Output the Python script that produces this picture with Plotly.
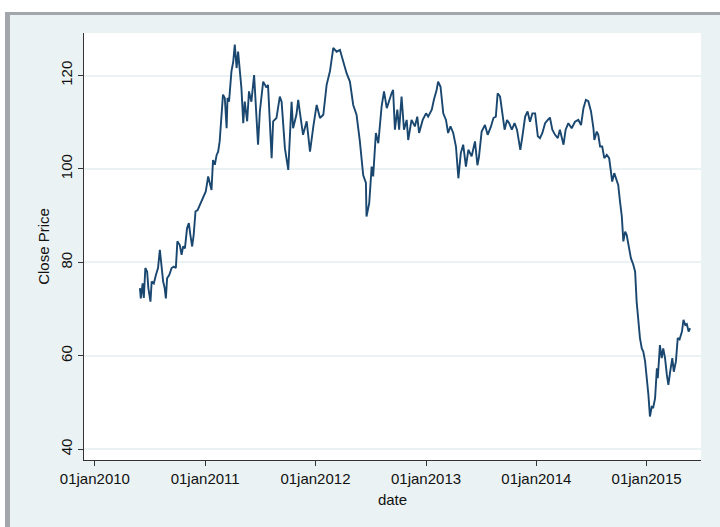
import plotly.graph_objects as go

dates = [
    "2010-05-30","2010-06-02","2010-06-08","2010-06-12","2010-06-17","2010-06-23","2010-06-27","2010-07-04",
    "2010-07-08","2010-07-15","2010-07-22","2010-07-29","2010-08-04","2010-08-09","2010-08-15","2010-08-20",
    "2010-08-24","2010-08-28","2010-09-04","2010-09-12","2010-09-19","2010-09-26","2010-10-01","2010-10-09",
    "2010-10-15","2010-10-20","2010-10-26","2010-11-02","2010-11-08","2010-11-13","2010-11-19","2010-11-24",
    "2010-11-30","2010-12-07","2010-12-14","2010-12-22","2010-12-28","2011-01-03","2011-01-11","2011-01-16",
    "2011-01-22","2011-01-27","2011-02-02","2011-02-08","2011-02-13","2011-02-18","2011-02-24","2011-03-01",
    "2011-03-07","2011-03-13","2011-03-16","2011-03-21","2011-03-29","2011-04-04","2011-04-09","2011-04-15",
    "2011-04-20","2011-04-26","2011-05-01","2011-05-07","2011-05-12","2011-05-20","2011-05-26","2011-06-03",
    "2011-06-12","2011-06-25","2011-07-01","2011-07-12","2011-07-23","2011-07-28","2011-08-09","2011-08-14",
    "2011-08-25","2011-09-05","2011-09-11","2011-09-22","2011-10-03","2011-10-14","2011-10-19","2011-10-30",
    "2011-11-05","2011-11-10","2011-11-21","2011-12-03","2011-12-14","2011-12-25","2012-01-05","2012-01-16",
    "2012-01-27","2012-02-07","2012-02-18","2012-02-29","2012-03-11","2012-03-22","2012-04-02","2012-04-13",
    "2012-04-24","2012-05-05","2012-05-16","2012-05-27","2012-06-07","2012-06-16","2012-06-18","2012-06-27",
    "2012-07-05","2012-07-10","2012-07-19","2012-07-27","2012-08-07","2012-08-15","2012-08-24","2012-09-01",
    "2012-09-09","2012-09-14","2012-09-20","2012-09-28","2012-10-04","2012-10-12","2012-10-20","2012-10-29",
    "2012-11-03","2012-11-14","2012-11-25","2012-12-03","2012-12-09","2012-12-21","2013-01-01","2013-01-08",
    "2013-01-20","2013-01-27","2013-02-05","2013-02-10","2013-02-18","2013-02-27","2013-03-08","2013-03-15",
    "2013-03-23","2013-04-01","2013-04-10","2013-04-18","2013-04-26","2013-05-04","2013-05-13","2013-05-21",
    "2013-06-01","2013-06-12","2013-06-20","2013-06-25","2013-07-04","2013-07-15","2013-07-24","2013-08-04",
    "2013-08-12","2013-08-20","2013-08-26","2013-09-03","2013-09-11","2013-09-18","2013-09-26","2013-10-03",
    "2013-10-12","2013-10-21","2013-10-29","2013-11-09","2013-11-16","2013-11-25","2013-12-03","2013-12-11",
    "2013-12-19","2013-12-28","2014-01-06","2014-01-13","2014-01-21","2014-01-30","2014-02-08","2014-02-15",
    "2014-02-23","2014-03-04","2014-03-13","2014-03-20","2014-04-01","2014-04-08","2014-04-17","2014-04-28",
    "2014-05-09","2014-05-20","2014-05-29","2014-06-06","2014-06-14","2014-06-22","2014-07-01","2014-07-09",
    "2014-07-12","2014-07-20","2014-07-25","2014-07-31","2014-08-07","2014-08-14","2014-08-22","2014-08-30",
    "2014-09-05","2014-09-09","2014-09-16","2014-09-24","2014-09-29","2014-10-05","2014-10-11","2014-10-16",
    "2014-10-22","2014-10-27","2014-11-04","2014-11-10","2014-11-18","2014-11-24","2014-11-29","2014-12-05",
    "2014-12-10","2014-12-16","2014-12-21","2014-12-27","2015-01-01","2015-01-07","2015-01-12","2015-01-18",
    "2015-01-23","2015-01-29","2015-02-04","2015-02-07","2015-02-14","2015-02-20","2015-02-25","2015-03-03",
    "2015-03-09","2015-03-14","2015-03-20","2015-03-27","2015-04-01","2015-04-08","2015-04-14","2015-04-20",
    "2015-04-28","2015-05-03","2015-05-09","2015-05-14","2015-05-20","2015-05-25",
]

close_price = [
    74.5, 72.3, 75.5, 72.4, 78.8, 78.0, 74.5, 71.6,
    75.9, 75.5, 77.3, 78.8, 82.7, 79.5, 75.9, 74.5,
    72.3, 76.6, 77.3, 78.8, 79.1, 78.8, 84.5, 83.7,
    81.6, 83.4, 83.0, 87.3, 88.4, 85.9, 83.4, 85.9,
    90.9, 91.2, 92.3, 93.7, 94.5, 95.2, 98.4, 97.3,
    95.5, 101.9, 100.9, 103.0, 103.7, 105.9, 111.9, 115.9,
    115.2, 108.7, 115.2, 114.4, 120.9, 123.0, 126.6, 121.6,
    125.1, 121.6, 117.3, 109.8, 114.4, 110.2, 116.6, 114.4,
    120.1, 105.2, 112.3, 118.7, 117.4, 118.0, 102.3, 110.2,
    110.9, 115.5, 114.4, 104.4, 99.8, 114.4, 108.7, 111.6,
    114.8, 112.3, 107.3, 110.2, 103.7, 109.1, 113.7, 110.9,
    111.6, 118.0, 120.9, 125.9, 125.1, 125.5, 123.0, 120.5,
    118.7, 113.7, 111.6, 105.9, 98.7, 97.0, 89.8, 92.7,
    100.5, 98.4, 107.7, 105.5, 113.4, 116.6, 113.0, 114.8,
    116.2, 116.9, 108.4, 112.7, 108.4, 115.5, 108.4, 110.5,
    106.2, 110.5, 109.1, 111.2, 107.7, 110.5, 111.9, 111.2,
    112.7, 114.8, 116.9, 118.7, 117.6, 111.9, 110.5, 107.7,
    109.1, 107.7, 104.8, 98.0, 103.4, 105.2, 100.5, 104.1,
    102.7, 105.9, 100.8, 102.5, 108.0, 109.4, 107.3, 109.1,
    110.9, 111.2, 116.2, 115.5, 111.2, 108.4, 110.5, 109.8,
    108.4, 109.8, 108.4, 104.1, 107.0, 111.2, 112.3, 110.1,
    111.9, 111.9, 107.0, 106.6, 107.7, 109.8, 110.5, 111.0,
    108.4, 107.3, 106.6, 108.4, 105.2, 108.4, 109.8, 108.7,
    110.1, 110.5, 109.4, 113.0, 114.8, 114.5, 112.3, 108.7,
    106.2, 108.0, 107.3, 104.8, 104.8, 102.3, 103.0, 102.3,
    99.4, 97.3, 99.1, 97.3, 96.6, 93.0, 89.8, 84.5,
    86.6, 85.9, 83.1, 80.9, 79.5, 78.0, 71.6, 67.3,
    63.8, 61.6, 60.9, 58.8, 55.9, 51.6, 47.0, 49.1,
    49.0, 50.9, 57.3, 55.2, 62.3, 59.5, 61.6, 59.5,
    55.9, 53.8, 56.6, 59.5, 56.6, 58.8, 63.8, 63.5,
    65.2, 67.7, 66.6, 66.8, 65.2, 65.9,
]

x_tick_dates = ["2010-01-01", "2011-01-01", "2012-01-01", "2013-01-01", "2014-01-01", "2015-01-01"]
x_tick_labels = ["01jan2010", "01jan2011", "01jan2012", "01jan2013", "01jan2014", "01jan2015"]
y_ticks = [40, 60, 80, 100, 120]

BG = "#EAF2F3"
LINE = "#1A476F"
FONT = "Liberation Sans, Arial, Helvetica, sans-serif"

fig = go.Figure()
fig.add_trace(go.Scatter(x=dates, y=close_price, mode="lines",
                         line=dict(color=LINE, width=1.9), showlegend=False,
                         hoverinfo="skip"))

# plot area in px: left 84, right 701, top 33, bottom 460
L, R, T, B = 84, 701, 33, 460
W, H = R - L, B - T
def px(p):
    return (p - L) / W
def py(q):
    return (B - q) / H

shapes = [
    dict(type="rect", xref="paper", yref="paper", x0=px(-5), x1=px(730), y0=py(12), y1=py(-5),
         fillcolor="white", line=dict(width=0), layer="above"),
    dict(type="rect", xref="paper", yref="paper", x0=px(-5), x1=px(5), y0=py(540), y1=py(-5),
         fillcolor="white", line=dict(width=0), layer="above"),
    dict(type="rect", xref="paper", yref="paper", x0=px(5), x1=px(730), y0=py(15), y1=py(12),
         fillcolor="#A3A7AB", line=dict(width=0), layer="above"),
    dict(type="rect", xref="paper", yref="paper", x0=px(5), x1=px(10), y0=py(540), y1=py(12),
         fillcolor="#A3A7AB", line=dict(width=0), layer="above"),
]

fig.update_layout(
    width=720, height=527,
    margin=dict(l=L, r=720 - R, t=T, b=527 - B),
    paper_bgcolor=BG, plot_bgcolor="white",
    font=dict(family=FONT, size=15, color="#111111"),
    shapes=shapes,
    xaxis=dict(
        type="date",
        range=["2009-11-26", "2015-06-30"],
        tickmode="array", tickvals=x_tick_dates, ticktext=x_tick_labels,
        ticks="outside", ticklen=5, tickwidth=1, tickcolor="#333333",
        showline=True, linecolor="#333333", linewidth=1,
        showgrid=False, zeroline=False,
        title=dict(text="date", standoff=8, font=dict(size=15)),
        tickfont=dict(size=15),
    ),
    yaxis=dict(
        range=[37.7, 129.1],
        tickmode="array", tickvals=y_ticks,
        tickangle=-90,
        ticks="outside", ticklen=5, tickwidth=1, tickcolor="#333333",
        showline=True, linecolor="#333333", linewidth=1,
        showgrid=True, gridcolor=BG, gridwidth=1.5,
        zeroline=False,
        title=dict(text="Close Price", standoff=4, font=dict(size=15)),
        tickfont=dict(size=15),
    ),
)

fig.write_html("out.html",
               config={"displayModeBar": False},
               post_script="document.body.style.margin='0';document.body.style.padding='0';")
